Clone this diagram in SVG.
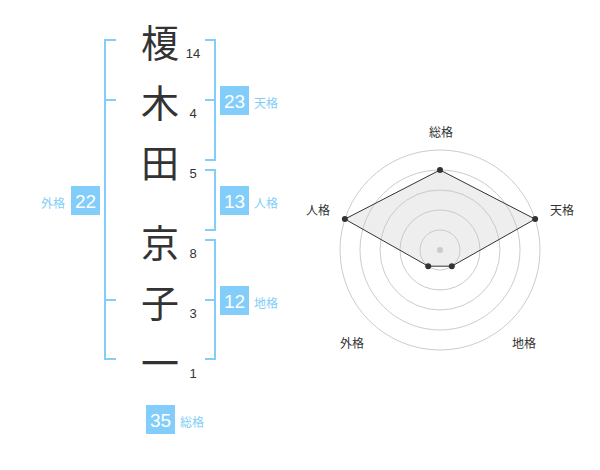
<svg xmlns="http://www.w3.org/2000/svg" width="600" height="470" viewBox="0 0 600 470">
<style>
.ch{font-family:"Noto Sans CJK JP","Noto Sans CJK SC",sans-serif;font-size:38px;fill:#333;text-anchor:middle;dominant-baseline:central}
.num{font-family:"Liberation Sans",Arial,sans-serif;font-size:13px;fill:#333;text-anchor:middle}
.br{fill:none;stroke:#82cdf9;stroke-width:2}
.box{fill:#82cdf9}
.bn{font-family:"Liberation Sans",Arial,sans-serif;font-size:19px;fill:#fff;text-anchor:middle;dominant-baseline:central}
.lb{font-family:"Noto Sans CJK JP",sans-serif;font-size:12px;fill:#82cdf9;dominant-baseline:central}
.rl{font-family:"Noto Sans CJK JP",sans-serif;font-size:12px;fill:#333;text-anchor:middle;dominant-baseline:central}
.ring{fill:none;stroke:#ccc;stroke-width:1}
.pt{fill:#333}
</style>
<rect width="600" height="470" fill="#fff"/>
<g id="chars">
<g id="c1"><text class="ch" x="160" y="40">榎</text><text class="num" x="193" y="58">14</text></g>
<g id="c2"><text class="ch" x="160" y="100">木</text><text class="num" x="193" y="118">4</text></g>
<g id="c3"><text class="ch" x="160" y="160">田</text><text class="num" x="193" y="178">5</text></g>
<g id="c4"><text class="ch" x="160" y="240">京</text><text class="num" x="193" y="258">8</text></g>
<g id="c5"><text class="ch" x="160" y="300">子</text><text class="num" x="193" y="318">3</text></g>
<g id="c6"><text class="ch" x="160" y="360">一</text><text class="num" x="193" y="378">1</text></g>
</g>
<g id="brackets">
<path class="br" d="M116,40 H105 V359 H116 M105,100 H116 M105,300 H116"/>
<path class="br" d="M205,40 H215 V160 H205 M205,100 H215"/>
<path class="br" d="M205,170 H215 V230 H205"/>
<path class="br" d="M205,240 H215 V359 H205 M205,300 H215"/>
</g>
<g id="tenkaku"><rect class="box" x="220" y="86" width="29" height="29"/><text class="bn" x="234.5" y="101">23</text><text class="lb" x="254" y="102">天格</text></g>
<g id="jinkaku"><rect class="box" x="220" y="186" width="29" height="29"/><text class="bn" x="234.5" y="201">13</text><text class="lb" x="254" y="202">人格</text></g>
<g id="chikaku"><rect class="box" x="220" y="286" width="29" height="29"/><text class="bn" x="234.5" y="301">12</text><text class="lb" x="254" y="302">地格</text></g>
<g id="gaikaku"><rect class="box" x="71" y="186" width="29" height="29"/><text class="bn" x="85.5" y="201">22</text><text class="lb" x="41" y="202">外格</text></g>
<g id="soukaku"><rect class="box" x="146" y="405" width="29" height="29"/><text class="bn" x="160.5" y="420">35</text><text class="lb" x="180" y="421">総格</text></g>
<g id="radar">
<circle class="ring" cx="440" cy="250" r="20"/>
<circle class="ring" cx="440" cy="250" r="40"/>
<circle class="ring" cx="440" cy="250" r="60"/>
<circle class="ring" cx="440" cy="250" r="80"/>
<circle class="ring" cx="440" cy="250" r="100"/>
<circle cx="440" cy="250" r="3" fill="#ccc"/>
<polygon points="440,170 535.1,219.1 451.8,266.2 428.2,266.2 344.9,219.1" fill="rgba(200,200,200,0.3)" stroke="#333" stroke-width="1"/>
<circle class="pt" cx="440" cy="170" r="3"/>
<circle class="pt" cx="535.1" cy="219.1" r="3"/>
<circle class="pt" cx="451.8" cy="266.2" r="3"/>
<circle class="pt" cx="428.2" cy="266.2" r="3"/>
<circle class="pt" cx="344.9" cy="219.1" r="3"/>
<text class="rl" x="441" y="131">総格</text>
<text class="rl" x="562" y="209">天格</text>
<text class="rl" x="318" y="209">人格</text>
<text class="rl" x="352" y="342">外格</text>
<text class="rl" x="524" y="342">地格</text>
</g>
</svg>
